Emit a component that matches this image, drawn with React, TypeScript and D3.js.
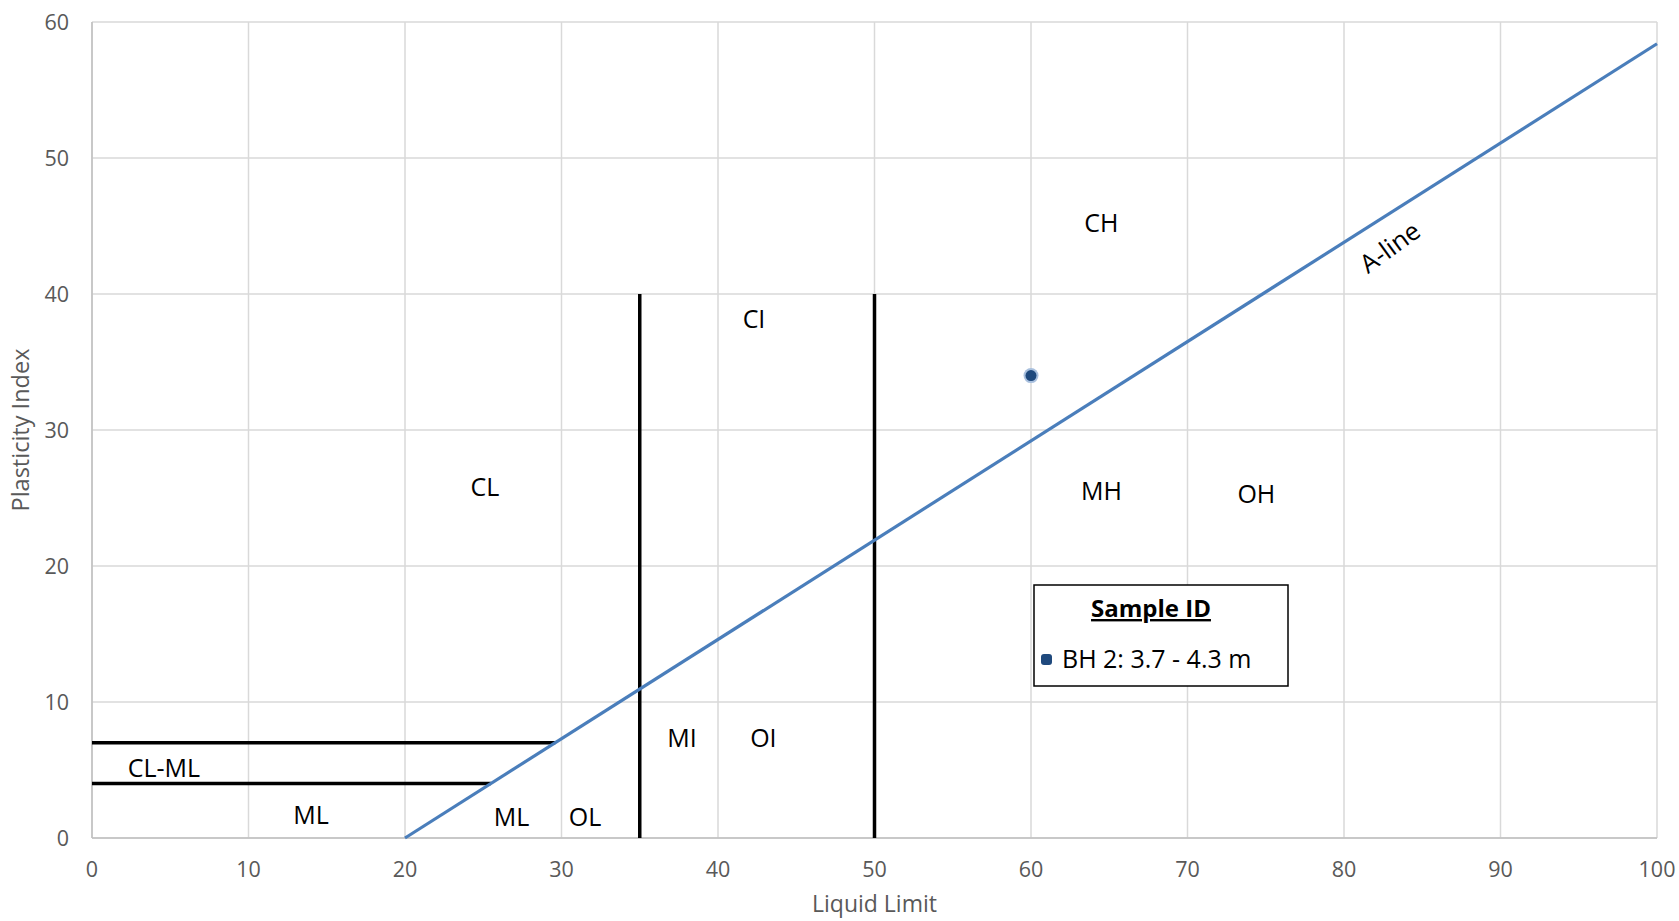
import React from 'react';
import * as d3 from 'd3';

// axis ticks
const xTicks = [0, 10, 20, 30, 40, 50, 60, 70, 80, 90, 100];
const yTicks = [0, 10, 20, 30, 40, 50, 60];

// A-line: PI = 0.73 (LL - 20)
const aLineLL = [20, 100];
const aLinePI = [0, 58.4];

// zone boundaries
const boundaryLL = [35, 50];
const boundaryTopPI = 40;
const clmlPI = [4, 7];
const clmlEndLL = [25.5, 29.6];

// zone labels (data coordinates)
const zoneNames = ['CH', 'CI', 'CL', 'MH', 'OH', 'MI', 'OI', 'CL-ML', 'ML', 'ML', 'OL'];
const zoneLL = [64.5, 42.3, 25.1, 64.5, 74.4, 37.7, 42.9, 4.6, 14.0, 26.8, 31.5];
const zonePI = [45.3, 38.2, 25.9, 25.6, 25.4, 7.4, 7.4, 5.2, 1.8, 1.6, 1.6];

// samples
const sampleNames = ['BH 2: 3.7 - 4.3 m'];
const sampleLL = [60];
const samplePI = [34];

const W = 1679;
const H = 921;
const margin = { top: 22, right: 22, bottom: 83, left: 92 };
const font = "'Open Sans', sans-serif";

const App = () => {
  const x = d3.scaleLinear().domain([0, 100]).range([margin.left, W - margin.right]);
  const y = d3.scaleLinear().domain([0, 60]).range([H - margin.bottom, margin.top]);

  const line = d3
    .line<number>()
    .x((d, i) => x(aLineLL[i]))
    .y((d) => y(d));

  const legend = { x: 1034, y: 585, w: 254, h: 101 };

  return (
    <svg
      width={W}
      height={H}
      style={{ position: 'absolute', left: 0, top: 0, background: '#fff' }}
      fontFamily={font}
    >
      {/* grid */}
      {xTicks.map((t) => (
        <line key={'gx' + t} x1={x(t)} x2={x(t)} y1={y(0)} y2={y(60)} stroke="#d9d9d9" strokeWidth={1.5} />
      ))}
      {yTicks.map((t) => (
        <line key={'gy' + t} x1={x(0)} x2={x(100)} y1={y(t)} y2={y(t)} stroke="#d9d9d9" strokeWidth={1.5} />
      ))}
      <line x1={x(0)} x2={x(0)} y1={y(0)} y2={y(60)} stroke="#bfbfbf" strokeWidth={1.5} />
      <line x1={x(0)} x2={x(100)} y1={y(0)} y2={y(0)} stroke="#bfbfbf" strokeWidth={1.5} />

      {/* tick labels */}
      {xTicks.map((t) => (
        <text key={'tx' + t} x={x(t)} y={y(0) + 39} textAnchor="middle" fontSize={21.5} fill="#595959">
          {t}
        </text>
      ))}
      {yTicks.map((t) => (
        <text key={'ty' + t} x={x(0) - 23} y={y(t) + 7.5} textAnchor="end" fontSize={21.5} fill="#595959">
          {t}
        </text>
      ))}

      {/* axis titles */}
      <text x={x(50)} y={912} textAnchor="middle" fontSize={23} fill="#595959">
        Liquid Limit
      </text>
      <text transform={`translate(29, ${(y(0) + y(60)) / 2}) rotate(-90)`} textAnchor="middle" fontSize={23.5} fill="#595959">
        Plasticity Index
      </text>

      {/* zone boundaries */}
      {boundaryLL.map((ll) => (
        <line key={'b' + ll} x1={x(ll)} x2={x(ll)} y1={y(0)} y2={y(boundaryTopPI)} stroke="#000" strokeWidth={3.5} />
      ))}
      {clmlPI.map((pi, i) => (
        <line key={'h' + pi} x1={x(0)} x2={x(clmlEndLL[i])} y1={y(pi)} y2={y(pi)} stroke="#000" strokeWidth={3.5} />
      ))}

      {/* A-line */}
      <path d={line(aLinePI) || ''} fill="none" stroke="#4a7ebb" strokeWidth={3.2} />
      <text
        transform={`translate(${x(82.9)}, ${y(43.5)}) rotate(-36)`}
        textAnchor="middle"
        dominantBaseline="central"
        fontSize={25.5}
        fill="#000"
      >
        A-line
      </text>

      {/* zone labels */}
      {zoneNames.map((n, i) => (
        <text key={'z' + i} x={x(zoneLL[i])} y={y(zonePI[i])} textAnchor="middle" dominantBaseline="central" fontSize={25} fill="#000">
          {n}
        </text>
      ))}

      {/* samples */}
      {sampleNames.map((n, i) => (
        <g key={'s' + i}>
          <circle cx={x(sampleLL[i])} cy={y(samplePI[i])} r={7.5} fill="#a9c0de" />
          <circle cx={x(sampleLL[i])} cy={y(samplePI[i])} r={5.5} fill="#1f497d" />
        </g>
      ))}

      {/* legend */}
      <rect x={legend.x} y={legend.y} width={legend.w} height={legend.h} fill="#fff" stroke="#000" strokeWidth={1.5} />
      <text x={legend.x + 117} y={legend.y + 32} textAnchor="middle" fontSize={24} fontWeight="bold" textDecoration="underline" fill="#000">
        Sample ID
      </text>
      {sampleNames.map((n, i) => (
        <g key={'l' + i}>
          <rect x={legend.x + 7} y={legend.y + 69 + i * 30} width={11} height={11} rx={3} fill="#1f497d" />
          <text x={legend.x + 28} y={legend.y + 83 + i * 30} fontSize={25} fill="#000">
            {n}
          </text>
        </g>
      ))}
    </svg>
  );
};

export default App;
